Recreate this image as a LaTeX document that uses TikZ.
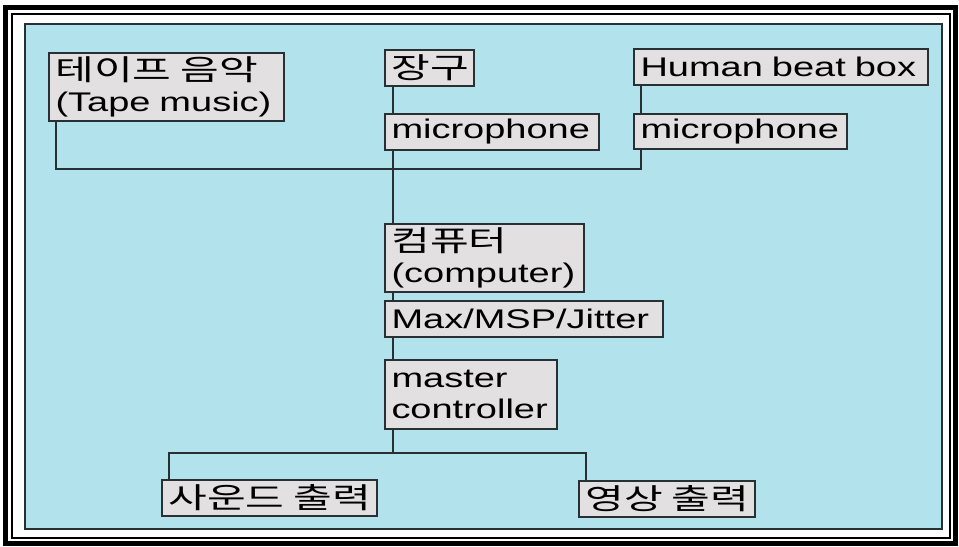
\documentclass[tikz,border=0pt]{standalone}
\usepackage{fontspec}
\setmainfont{Liberation Sans}[FakeStretch=1.41]
\newfontfamily\kor{Noto Sans CJK KR}[FakeStretch=1.46, Scale=1.07]
\definecolor{panel}{RGB}{178,226,236}
\definecolor{boxfill}{RGB}{226,224,224}
\definecolor{ink}{RGB}{40,48,52}

\begin{document}
\begin{tikzpicture}[x=3cm, y=-3cm,
		unit/.style={draw=ink, fill=boxfill, line width=0.05cm, anchor=north west,
			align=left, inner xsep=0.2cm, inner ysep=0pt,
			font=\fontsize{23}{27}\selectfont},
		wire/.style={draw=ink, line width=0.05cm},
		outerframe/.style={line width=0.15cm},
		innerframe/.style={line width=0.06cm}]

	\useasboundingbox (0,0) rectangle (9.59,5.46);

	% frames and background
	\draw[outerframe] (0.055,0.075) rectangle (9.55,5.43);
	\draw[innerframe] (0.12,0.14) rectangle (9.50,5.38);
	\draw[ink, fill=panel, line width=0.05cm] (0.25,0.24) rectangle (9.42,5.29);

	% sources
	\node[unit, text width=6.65cm, minimum height=2.04cm] (tape) at (0.48,0.52) {{\kor 테이프~음악}\\(Tape music)};
	\node[unit, text width=2.27cm, minimum height=1.08cm] (janggu) at (3.84,0.49) {\kor 장구};
	\node[unit, text width=6.02cm, minimum height=1.08cm] (mic1) at (3.84,1.13) {microphone};
	\node[unit, text width=8.42cm, minimum height=1.08cm] (hbb) at (6.33,0.48) {Human~beat~box};
	\node[unit, text width=5.99cm, minimum height=1.05cm] (mic2) at (6.33,1.13) {microphone};

	% processing chain
	\node[unit, text width=5.57cm, minimum height=2.04cm] (computer) at (3.84,2.23) {{\kor 컴퓨터}\\(computer)};
	\node[unit, text width=7.94cm, minimum height=1.08cm] (max) at (3.84,3.00) {Max/MSP/Jitter};
	\node[unit, text width=4.76cm, minimum height=2.07cm] (master) at (3.84,3.59) {master\\controller};

	% outputs
	\node[unit, text width=6.05cm, minimum height=1.08cm] (sound) at (1.61,4.79) {\kor 사운드~출력};
	\node[unit, text width=4.88cm, minimum height=1.08cm] (video) at (5.78,4.80) {\kor 영상~출력};

	\coordinate (mixbus) at (3.93,1.69);
	\coordinate (split) at (3.93,4.53);

	% signal lines
	\draw[wire] ([xshift=0.27cm]janggu.south west) -- ([xshift=0.27cm]mic1.north west);
	\draw[wire] ([xshift=0.27cm]mic1.south west) -- ([xshift=0.27cm]computer.north west);
	\draw[wire] ([xshift=0.24cm]hbb.south west) -- ([xshift=0.24cm]mic2.north west);
	\draw[wire] ([xshift=0.24cm]tape.south west) |- (mixbus) -| ([xshift=0.24cm]mic2.south west);
	\draw[wire] ([xshift=0.27cm]computer.south west) -- ([xshift=0.27cm]max.north west);
	\draw[wire] ([xshift=0.27cm]max.south west) -- ([xshift=0.27cm]master.north west);
	\draw[wire] ([xshift=0.27cm]master.south west) -- (split);
	\draw[wire] ([xshift=0.24cm]sound.north west) |- (split) -| ([xshift=0.24cm]video.north west);
\end{tikzpicture}
\end{document}
